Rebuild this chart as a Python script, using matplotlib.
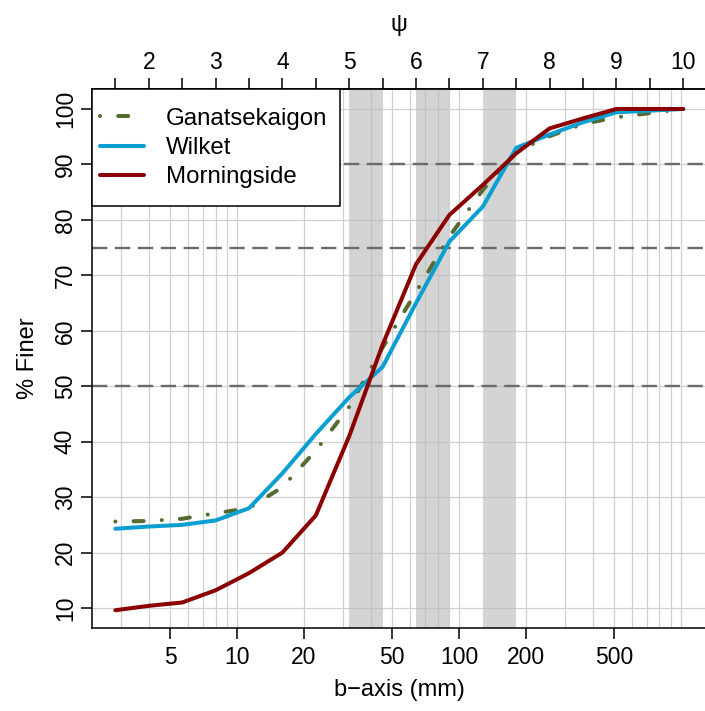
import numpy as np
import matplotlib
matplotlib.use('Agg')
import matplotlib.pyplot as plt
from matplotlib.patches import Rectangle
from matplotlib.ticker import FixedLocator, NullFormatter, NullLocator

plt.rcParams['font.family'] = ['Liberation Sans', 'DejaVu Sans']
plt.rcParams['font.size'] = 16.5

# size classes in psi units (mm = 2**psi)
psi = [1.5, 2, 2.5, 3, 3.5, 4, 4.5, 5, 5.5, 6, 6.5, 7, 7.5, 8, 8.5, 9, 10]

ganatsekaigon = [25.6, 25.7, 26.1, 27.1, 28.0, 31.8, 38.4, 46.3, 57.0, 67.0, 77.0, 85.4, 92.3, 95.1, 97.3, 98.5, 100]
wilket = [24.3, 24.7, 25.0, 25.8, 28.0, 34.3, 41.4, 48.0, 53.5, 65.0, 76.1, 82.4, 93.0, 95.4, 97.6, 99.4, 100]
morningside = [9.6, 10.4, 11.0, 13.2, 16.3, 20.0, 26.7, 41.0, 57.5, 72.0, 80.9, 86.3, 92.0, 96.5, 98.3, 100, 100]

series = [('Ganatsekaigon', ganatsekaigon, '#556b2f'),
          ('Wilket', wilket, '#0a9fd2'),
          ('Morningside', morningside, '#8b0000')]

ref_lines = [50, 75, 90]
bands = [(5, 5.5), (6, 6.5), (7, 7.5)]   # psi ranges shaded

x_ticks = [5, 10, 20, 50, 100, 200, 500]
y_ticks = [10, 20, 30, 40, 50, 60, 70, 80, 90, 100]
psi_ticks = [2, 3, 4, 5, 6, 7, 8, 9, 10]

mm = 2.0 ** np.array(psi)
xmin, xmax = 2 ** 1.15, 2 ** 10.34

fig = plt.figure(figsize=(7.05, 7.11), dpi=100)
W, H = 705, 711
left, right, top, bottom = 92, 706, 89, 628
ax = fig.add_axes([left / W, 1 - bottom / H, (right - left) / W, (bottom - top) / H])

ax.set_xscale('log')
ax.set_xlim(xmin, xmax)
ax.set_ylim(6.4, 103.6)

# grid
grid_x = [m * 10 ** k for k in range(0, 4) for m in range(1, 10)]
for g in grid_x:
    if xmin < g < xmax:
        ax.axvline(g, color='#d0d0d0', lw=0.9, zorder=0)
for g in y_ticks:
    ax.axhline(g, color='#d0d0d0', lw=0.9, zorder=0)

for a, b in bands:
    ax.axvspan(2 ** a, 2 ** b, facecolor='#bdbdbd', alpha=0.65, lw=0, zorder=1)

for r in ref_lines:
    ax.axhline(r, color='#6b6b6b', lw=1.7, dashes=(6.5, 3.2), zorder=2)

handles = []
for name, vals, col in series:
    if name == 'Ganatsekaigon':
        ln, = ax.plot(mm, vals, color=col, lw=2.9, dashes=(0.01, 4.5, 2.5, 4.5),
                      dash_capstyle='round', zorder=3, label=name)
    else:
        ln, = ax.plot(mm, vals, color=col, lw=2.9, solid_capstyle='round', zorder=3, label=name)
    handles.append(ln)

# axes styling
for s in ['left', 'bottom', 'top']:
    ax.spines[s].set_linewidth(1.1)
ax.spines['right'].set_visible(False)

ax.set_xticks(x_ticks)
ax.set_xticklabels([str(t) for t in x_ticks])
ax.xaxis.set_minor_locator(NullLocator())
ax.set_yticks(y_ticks)
ax.tick_params(axis='x', length=7.9, width=1.1, pad=5)
ax.tick_params(axis='y', length=7.9, width=1.1, pad=3)
plt.setp(ax.get_yticklabels(), rotation=90, va='center')

sec = ax.secondary_xaxis('top', functions=(np.log2, lambda p: 2.0 ** p))
sec.set_xticks(psi_ticks)
sec.set_xticklabels([str(t) for t in psi_ticks])
sec.xaxis.set_minor_locator(FixedLocator(np.arange(1.5, 10.5, 1.0)))
sec.xaxis.set_minor_formatter(NullFormatter())
sec.tick_params(axis='x', which='both', length=7.9, width=1.1, pad=3.2)
sec.spines['top'].set_linewidth(1.1)

# legend box drawn by hand, entries without frame
aw = right - left
ah = bottom - top
ax.add_patch(Rectangle((0, (bottom - 206) / ah), (340 - left) / aw, 1 - (bottom - 206) / ah,
                       transform=ax.transAxes, facecolor='white', edgecolor='black',
                       lw=1.1, zorder=4.5, clip_on=False))
ax.legend(handles=handles, loc='center left', frameon=False, borderpad=0, borderaxespad=0,
          fontsize=17.3, handlelength=1.85, handletextpad=0.9, labelspacing=0.31,
          bbox_to_anchor=((100 - left) / aw, (bottom - 148) / ah))

fig.text(28 / W, 1 - 358 / H, '% Finer', rotation=90, ha='center', va='center', fontsize=17)
fig.text(399 / W, 1 - 690 / H, 'b\u2212axis (mm)', ha='center', va='center', fontsize=17)
fig.text(399 / W, 1 - 25 / H, '\u03c8', ha='center', va='center', fontsize=17)

fig.savefig('out.png', dpi=100)
